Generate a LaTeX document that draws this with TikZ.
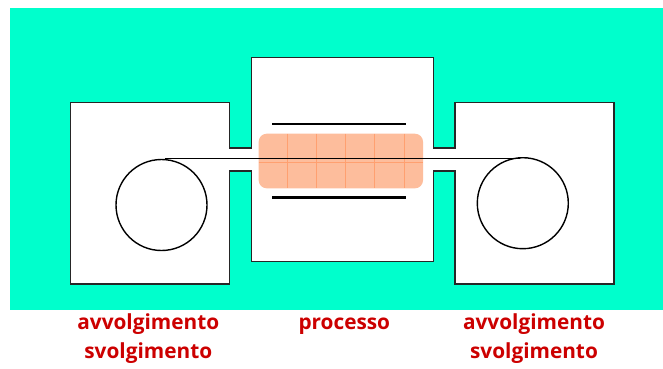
\documentclass[tikz,border=0pt]{standalone}
\usepackage{fontspec}
\setmainfont{Open Sans}
\definecolor{bgteal}{HTML}{00FFCC}
\definecolor{labelred}{HTML}{CC0000}
\definecolor{padfill}{HTML}{FDBD9C}
\definecolor{padgrid}{HTML}{FFA070}
\tikzset{
  wall/.style={draw=black!85,line width=1.1pt,fill=white,line join=miter},
  roller/.style={circle,draw=black,line width=1.4pt,minimum size=91pt,inner sep=0pt,fill=white},
  strip/.style={draw=black,line width=0.9pt},
  plate/.style={draw=black,line width=2.4pt},
  pad/.style={fill=padfill,rounded corners=8pt},
  padline/.style={draw=padgrid,line width=0.9pt},
  caption/.style={text=labelred,font=\fontsize{20.8}{20.8}\selectfont\bfseries,anchor=base,inner sep=0pt}
}
\begin{document}
\begin{tikzpicture}[x=1pt,y=-1pt]
\useasboundingbox (0,0) rectangle (663,368);
\fill[bgteal] (10,8) rectangle (663,310);
\draw[wall] (70.5,102.5) -- (229.5,102.5) -- (229.5,148) -- (251.5,148) -- (251.5,57.5) -- (433.5,57.5) -- (433.5,148) -- (455,148) -- (455,102.5) -- (614,102.5) -- (614,284) -- (455,284) -- (455,171) -- (433.5,171) -- (433.5,261.5) -- (251.5,261.5) -- (251.5,171) -- (229.5,171) -- (229.5,284) -- (70.5,284) -- cycle;
\node[roller] (rollL) at (161.5,205) {};
\node[roller] (rollR) at (522.8,203.2) {};
\coordinate (stripL) at (165,158.5);
\coordinate (stripR) at (520,158.5);
\draw[plate] (272,124) -- (405.5,124);
\draw[plate] (272,197.3) -- (405.5,197.3);
\fill[pad] (258.7,133.7) rectangle (423,188.3);
\draw[padline] (287.3,133.7) -- (287.3,188.3);
\draw[padline] (316.7,133.7) -- (316.7,188.3);
\draw[padline] (345.7,133.7) -- (345.7,188.3);
\draw[padline] (374.7,133.7) -- (374.7,188.3);
\draw[padline] (404.7,133.7) -- (404.7,188.3);
\draw[padline] (258.7,162) -- (423,162);
\draw[strip] (stripL) -- (stripR);
\node[caption] (capA) at (148.3,329.5) {avvolgimento};
\node[caption] (capB) at (148.3,358) {svolgimento};
\node[caption] (capC) at (344.3,329.5) {processo};
\node[caption] (capD) at (534,329.5) {avvolgimento};
\node[caption] (capE) at (534,358) {svolgimento};
\end{tikzpicture}
\end{document}
